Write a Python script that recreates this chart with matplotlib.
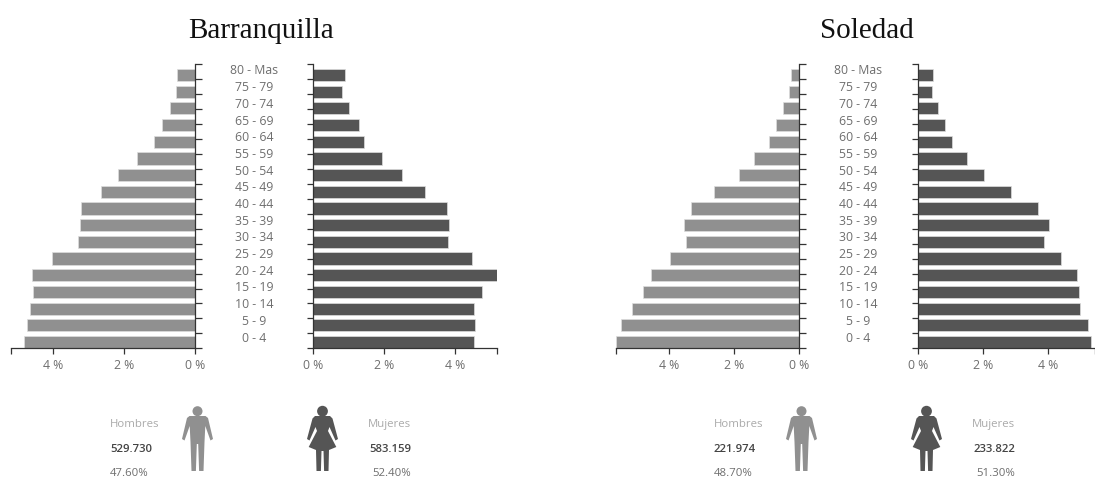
import numpy as np
import matplotlib
matplotlib.use('Agg')
import matplotlib.pyplot as plt
from matplotlib.patches import Polygon, Circle

age_labels = ['80 - Mas', '75 - 79', '70 - 74', '65 - 69', '60 - 64', '55 - 59',
              '50 - 54', '45 - 49', '40 - 44', '35 - 39', '30 - 34', '25 - 29',
              '20 - 24', '15 - 19', '10 - 14', '5 - 9', '0 - 4']

baq_men = [0.52, 0.55, 0.71, 0.94, 1.16, 1.64, 2.18, 2.66, 3.22, 3.25, 3.32,
           4.03, 4.62, 4.57, 4.66, 4.76, 4.82]
baq_women = [0.91, 0.81, 1.00, 1.29, 1.43, 1.93, 2.50, 3.15, 3.77, 3.83, 3.79,
             4.47, 5.17, 4.77, 4.52, 4.56, 4.53]
sol_men = [0.26, 0.30, 0.48, 0.70, 0.93, 1.38, 1.86, 2.61, 3.34, 3.56, 3.50,
           3.98, 4.56, 4.83, 5.17, 5.50, 5.66]
sol_women = [0.45, 0.42, 0.61, 0.82, 1.04, 1.51, 2.03, 2.86, 3.69, 4.04, 3.89,
             4.40, 4.91, 4.96, 5.01, 5.23, 5.33]

W, H = 1095, 480
MEN = '#909090'
WOMEN = '#555555'
AXIS = '#333333'
TEXT = '#6e6e6e'
SANS = 'Open Sans'

fig = plt.figure(figsize=(W / 100, H / 100), dpi=100)
# full-size overlay in pixel coordinates for the titles, captions and icons
bg = fig.add_axes([0, 0, 1, 1])
bg.set_xlim(0, W)
bg.set_ylim(H, 0)
bg.axis('off')


def side_axes(x0, x1, xmax, values, color, flip):
    top, bottom = 64.3, 348.3
    ax = fig.add_axes([x0 / W, 1 - bottom / H, (x1 - x0) / W, (bottom - top) / H])
    ax.patch.set_alpha(0)
    # y runs in pixels below the top of the axis
    ax.set_ylim(bottom - top, 0)
    y = 10.7 + 16.69 * np.arange(len(values))
    ax.barh(y, values, height=12.2, color=color, edgecolor='#dddddd', linewidth=0.5)
    ax.set_xlim(xmax, 0) if flip else ax.set_xlim(0, xmax)
    for s in ax.spines.values():
        s.set_visible(False)
    side = 'right' if flip else 'left'
    for name in ['bottom', side]:
        ax.spines[name].set_visible(True)
        ax.spines[name].set_color(AXIS)
        ax.spines[name].set_linewidth(0.9)
    ax.yaxis.set_ticks_position(side)
    ax.set_yticks(np.linspace(0, bottom - top, 20))
    ax.set_yticklabels([])
    ax.tick_params(axis='y', length=6.5 * 0.72, width=0.9, color=AXIS,
                   direction='out')
    ax.set_xticks([0, 2, 4, xmax])
    ax.set_xticklabels(['0 %', '2 %', '4 %', ''], fontsize=8.8, color=TEXT,
                       family=SANS)
    ax.tick_params(axis='x', length=4.5, width=0.9, color=AXIS, pad=3.5)
    return ax


def mirrored(half):
    # half outline runs down the right side, the left side is its reflection
    return half + [(-a, b) for a, b in reversed(half)]


def draw_man(cx, top, color):
    bg.add_patch(Circle((cx, top + 5.2), 5.0, color=color, lw=0))
    half = [(0, 10), (8, 10), (10.5, 12), (15.5, 33), (13, 34.5), (7.8, 20),
            (7, 36), (6, 65), (1.6, 65), (0.7, 38), (0, 38)]
    bg.add_patch(Polygon([(cx + a, top + b) for a, b in mirrored(half)],
                         closed=True, facecolor=color, edgecolor='none'))


def draw_woman(cx, top, color):
    bg.add_patch(Circle((cx, top + 5.2), 5.4, color=color, lw=0))
    half = [(0, 10), (7.5, 10), (10, 12.5), (15.5, 33), (13, 34.5), (7, 21),
            (5.5, 25), (13.8, 41), (6.5, 44), (6, 65), (1.6, 65), (1, 45), (0, 45)]
    bg.add_patch(Polygon([(cx + a, top + b) for a, b in mirrored(half)],
                         closed=True, facecolor=color, edgecolor='none'))


def caption(x, y, s, color, ha='left', weight='normal', size=8.2):
    bg.text(x, y, s, fontsize=size, color=color, ha=ha, va='center',
            family=SANS, weight=weight)


# Barranquilla
side_axes(11, 195, 5.2, baq_men, MEN, True)
side_axes(313, 497, 5.18, baq_women, WOMEN, False)
# Soledad
side_axes(615.7, 799, 5.66, sol_men, MEN, True)
side_axes(918, 1094.7, 5.45, sol_women, WOMEN, False)

for labels_x in [254, 858]:
    for i, lab in enumerate(age_labels):
        bg.text(labels_x, 71 + 16.69 * i, lab, fontsize=8.8, color=TEXT,
                ha='center', va='center', family=SANS)

bg.text(261, 31, 'Barranquilla', fontsize=21, family='Liberation Serif',
        color='#111111', ha='center', va='center')
bg.text(867, 31, 'Soledad', fontsize=21, family='Liberation Serif',
        color='#111111', ha='center', va='center')

draw_man(197.5, 406, MEN)
draw_woman(322.5, 406, WOMEN)
draw_man(801.5, 406, MEN)
draw_woman(926.5, 406, WOMEN)

caption(110, 424.5, 'Hombres', '#aaaaaa')
caption(110, 449, '529.730', '#444444', weight='semibold')
caption(110, 473, '47.60%', TEXT)
caption(411, 424.5, 'Mujeres', '#aaaaaa', ha='right')
caption(411, 449, '583.159', '#444444', ha='right', weight='semibold')
caption(411, 473, '52.40%', TEXT, ha='right')

caption(714, 424.5, 'Hombres', '#aaaaaa')
caption(714, 449, '221.974', '#444444', weight='semibold')
caption(714, 473, '48.70%', TEXT)
caption(1015, 424.5, 'Mujeres', '#aaaaaa', ha='right')
caption(1015, 449, '233.822', '#444444', ha='right', weight='semibold')
caption(1015, 473, '51.30%', TEXT, ha='right')

fig.savefig('out.png', dpi=100)
